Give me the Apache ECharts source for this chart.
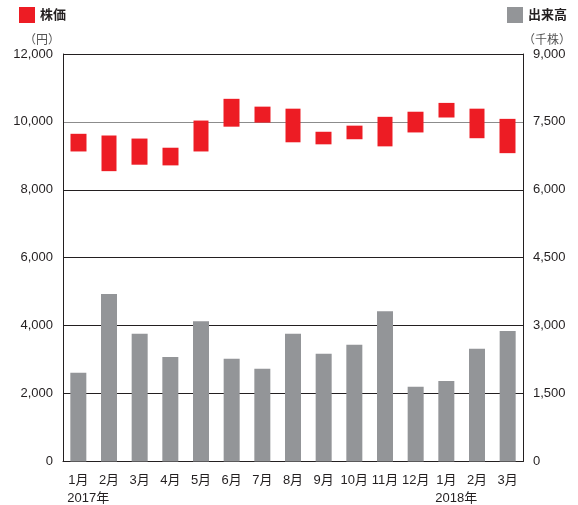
<!DOCTYPE html>
<html>
<head>
<meta charset="utf-8">
<script src="https://cdn.jsdelivr.net/npm/echarts@6/dist/echarts.min.js"></script>
<style>
  html, body { margin: 0; padding: 0; background: #fff; }
  #chart { width: 578px; height: 505px; }
</style>
</head>
<body>
<div id="chart"></div>
<script>
var months = ['1月', '2月', '3月', '4月', '5月', '6月', '7月', '8月', '9月', '10月', '11月', '12月', '1月', '2月', '3月']
var years = ['2017年', '', '', '', '', '', '', '', '', '', '', '', '2018年', '', '']

// 株価 (円): monthly high / low
var priceHigh = [9650, 9600, 9510, 9240, 10040, 10680, 10450, 10390, 9710, 9890, 10150, 10300, 10560, 10390, 10090]
var priceLow = [9130, 8550, 8740, 8720, 9130, 9860, 9980, 9400, 9340, 9490, 9280, 9690, 10130, 9520, 9080]

// 出来高 (千株)
var volume = [1960, 3700, 2820, 2310, 3100, 2270, 2050, 2820, 2380, 2580, 3320, 1650, 1780, 2490, 2880]

var ink = '#231f20'
var red = '#ed1c24'
var gray = '#939598'
var font = '"Liberation Sans", "Noto Sans CJK JP", sans-serif'

var candle = []
for (var i = 0; i < months.length; i++) {
  candle.push([priceLow[i], priceHigh[i], priceLow[i], priceHigh[i]])
}

function commas(v) {
  return String(v).replace(/\B(?=(\d{3})+(?!\d))/g, ',')
}

var mychart = echarts.init(document.getElementById('chart'))
mychart.setOption({
  animation: false,
  textStyle: {fontFamily: font, color: ink},
  legend: [
    {
      data: ['株価'], left: 19, top: 7, padding: 0,
      itemWidth: 16, itemHeight: 16, itemGap: 4, icon: 'rect',
      textStyle: {fontSize: 13, fontWeight: 'bold', color: ink}
    },
    {
      data: ['出来高'], left: 507, top: 7, padding: 0,
      itemWidth: 16, itemHeight: 16, itemGap: 4, icon: 'rect',
      textStyle: {fontSize: 13, fontWeight: 'bold', color: ink}
    }
  ],
  grid: {left: 63, right: 55, top: 54, bottom: 43},
  xAxis: {
    type: 'category',
    data: months,
    axisLine: {lineStyle: {color: ink, width: 1}},
    axisTick: {show: false},
    axisLabel: {
      interval: 0,
      margin: 10,
      formatter: function (value, idx) {
        var s = '{m|' + value + '}'
        if (years[idx]) s += '\n{y|' + years[idx] + '}'
        return s
      },
      rich: {
        m: {fontSize: 13, lineHeight: 18, color: ink, fontFamily: font},
        y: {fontSize: 13, lineHeight: 18, color: ink, fontFamily: font, padding: [0, 0, 0, 20]}
      }
    }
  },
  yAxis: [
    {
      type: 'value',
      min: 0, max: 12000, interval: 2000,
      name: '（円）',
      nameLocation: 'end',
      nameGap: 7,
      nameTextStyle: {fontSize: 12, color: '#555', align: 'right', padding: [0, 3, 0, 0]},
      axisLine: {show: true, lineStyle: {color: ink, width: 1}},
      axisTick: {show: false},
      axisLabel: {fontSize: 13, color: ink, margin: 10, padding: [7, 0, 0, 0], formatter: commas},
      splitLine: {
        show: true,
        lineStyle: {color: [ink, ink, ink, ink, ink, '#8c8c8c', ink], width: 1}
      }
    },
    {
      type: 'value',
      min: 0, max: 9000, interval: 1500,
      name: '（千株）',
      nameLocation: 'end',
      nameGap: 7,
      nameTextStyle: {fontSize: 12, color: '#555', align: 'left'},
      axisLine: {show: true, lineStyle: {color: ink, width: 1}},
      axisTick: {show: false},
      axisLabel: {fontSize: 13, color: ink, margin: 10, padding: [7, 0, 0, 0], formatter: commas},
      splitLine: {show: false}
    }
  ],
  series: [
    {
      name: '出来高',
      type: 'bar',
      yAxisIndex: 1,
      data: volume,
      barWidth: 16,
      itemStyle: {color: gray}
    },
    {
      name: '株価',
      type: 'candlestick',
      yAxisIndex: 0,
      data: candle,
      barWidth: 16,
      itemStyle: {color: red, color0: red, borderColor: red, borderColor0: red, borderWidth: 0}
    }
  ]
})
</script>
</body>
</html>
